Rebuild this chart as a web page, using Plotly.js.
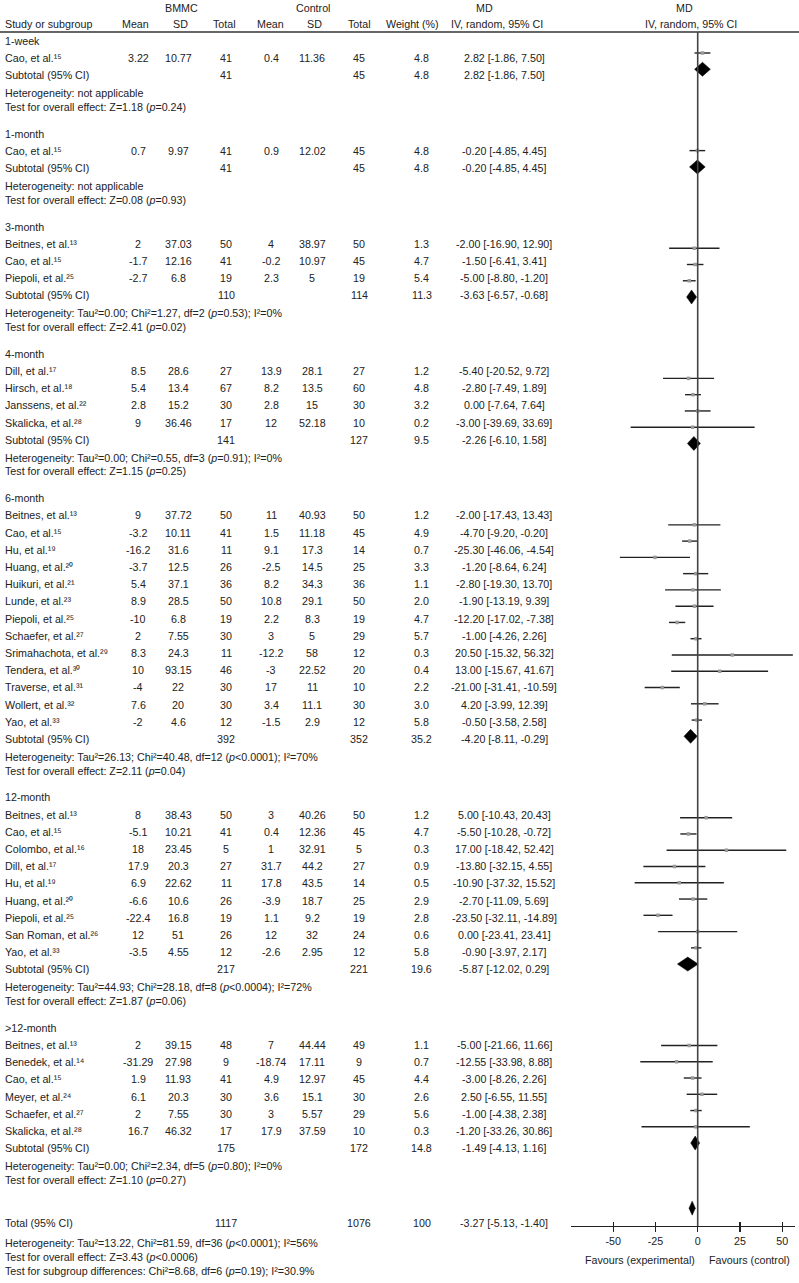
<!DOCTYPE html>
<html><head><meta charset="utf-8">
<script src="https://cdn.plot.ly/plotly-3.0.1.min.js"></script>
<style>html,body{margin:0;padding:0;background:#fff}</style>
</head><body><div id="chart" style="width:799px;height:1283px"></div>
<script>
// ---------------- data ----------------
const groupLabels = ['1-week','1-month','3-month','4-month','6-month','12-month','&gt;12-month'];

const studyGroup = [0, 1, 2,2,2, 3,3,3,3, 4,4,4,4,4,4,4,4,4,4,4,4,4, 5,5,5,5,5,5,5,5,5, 6,6,6,6,6,6];
const studyName = ['Cao',
  'Cao',
  'Beitnes','Cao','Piepoli',
  'Dill','Hirsch','Janssens','Skalicka',
  'Beitnes','Cao','Hu','Huang','Huikuri','Lunde','Piepoli','Schaefer','Srimahachota','Tendera','Traverse','Wollert','Yao',
  'Beitnes','Cao','Colombo','Dill','Hu','Huang','Piepoli','San Roman','Yao',
  'Beitnes','Benedek','Cao','Meyer','Schaefer','Skalicka'];
const studyRef = [15, 15, 13,15,25, 17,18,22,28,
  13,15,19,20,21,23,25,27,29,30,31,32,33,
  13,15,16,17,19,20,25,26,33,
  13,14,15,24,27,28];
const bmmcMean = [3.22, 0.7, 2,-1.7,-2.7, 8.5,5.4,2.8,9,
  9,-3.2,-16.2,-3.7,5.4,8.9,-10,2,8.3,10,-4,7.6,-2,
  8,-5.1,18,17.9,6.9,-6.6,-22.4,12,-3.5,
  2,-31.29,1.9,6.1,2,16.7];
const bmmcSD = [10.77, 9.97, 37.03,12.16,6.8, 28.6,13.4,15.2,36.46,
  37.72,10.11,31.6,12.5,37.1,28.5,6.8,7.55,24.3,93.15,22,20,4.6,
  38.43,10.21,23.45,20.3,22.62,10.6,16.8,51,4.55,
  39.15,27.98,11.93,20.3,7.55,46.32];
const bmmcN = [41, 41, 50,41,19, 27,67,30,17,
  50,41,11,26,36,50,19,30,11,46,30,30,12,
  50,41,5,27,11,26,19,26,12,
  48,9,41,30,30,17];
const ctrlMean = [0.4, 0.9, 4,-0.2,2.3, 13.9,8.2,2.8,12,
  11,1.5,9.1,-2.5,8.2,10.8,2.2,3,-12.2,-3,17,3.4,-1.5,
  3,0.4,1,31.7,17.8,-3.9,1.1,12,-2.6,
  7,-18.74,4.9,3.6,3,17.9];
const ctrlSD = [11.36, 12.02, 38.97,10.97,5, 28.1,13.5,15,52.18,
  40.93,11.18,17.3,14.5,34.3,29.1,8.3,5,58,22.52,11,11.1,2.9,
  40.26,12.36,32.91,44.2,43.5,18.7,9.2,32,2.95,
  44.44,17.11,12.97,15.1,5.57,37.59];
const ctrlN = [45, 45, 50,45,19, 27,60,30,10,
  50,45,14,25,36,50,19,29,12,20,10,30,12,
  50,45,5,27,14,25,19,24,12,
  49,9,45,30,29,10];
const weight = [4.8, 4.8, 1.3,4.7,5.4, 1.2,4.8,3.2,0.2,
  1.2,4.9,0.7,3.3,1.1,2.0,4.7,5.7,0.3,0.4,2.2,3.0,5.8,
  1.2,4.7,0.3,0.9,0.5,2.9,2.8,0.6,5.8,
  1.1,0.7,4.4,2.6,5.6,0.3];
const md = [2.82, -0.20, -2.00,-1.50,-5.00, -5.40,-2.80,0.00,-3.00,
  -2.00,-4.70,-25.30,-1.20,-2.80,-1.90,-12.20,-1.00,20.50,13.00,-21.00,4.20,-0.50,
  5.00,-5.50,17.00,-13.80,-10.90,-2.70,-23.50,0.00,-0.90,
  -5.00,-12.55,-3.00,2.50,-1.00,-1.20];
const mdLo = [-1.86, -4.85, -16.90,-6.41,-8.80, -20.52,-7.49,-7.64,-39.69,
  -17.43,-9.20,-46.06,-8.64,-19.30,-13.19,-17.02,-4.26,-15.32,-15.67,-31.41,-3.99,-3.58,
  -10.43,-10.28,-18.42,-32.15,-37.32,-11.09,-32.11,-23.41,-3.97,
  -21.66,-33.98,-8.26,-6.55,-4.38,-33.26];
const mdHi = [7.50, 4.45, 12.90,3.41,-1.20, 9.72,1.89,7.64,33.69,
  13.43,-0.20,-4.54,6.24,13.70,9.39,-7.38,2.26,56.32,41.67,-10.59,12.39,2.58,
  20.43,-0.72,52.42,4.55,15.52,5.69,-14.89,23.41,2.17,
  11.66,8.88,2.26,11.55,2.38,30.86];

const subN1 = [41,41,110,141,392,217,175];
const subN2 = [45,45,114,127,352,221,172];
const subW  = [4.8,4.8,11.3,9.5,35.2,19.6,14.8];
const subMD = [2.82,-0.20,-3.63,-2.26,-4.20,-5.87,-1.49];
const subLo = [-1.86,-4.85,-6.57,-6.10,-8.11,-12.02,-4.13];
const subHi = [7.50,4.45,-0.68,1.58,-0.29,0.29,1.16];
const hetTau2 = [null,null,'0.00','0.00','26.13','44.93','0.00'];
const hetChi2 = [null,null,'1.27','0.55','40.48','28.18','2.34'];
const hetDf   = [null,null,2,3,12,8,5];
const hetP    = [null,null,'=0.53','=0.91','&lt;0.0001','&lt;0.0004','=0.80'];
const hetI2   = [null,null,0,0,70,72,0];
const testZ   = ['1.18','0.08','2.41','1.15','2.11','1.87','1.10'];
const testP   = ['=0.24','=0.93','=0.02','=0.25','=0.04','=0.06','=0.27'];

const totalN1 = 1117, totalN2 = 1076, totalW = 100;
const totalMD = -3.27, totalLo = -5.13, totalHi = -1.40;
const totalHet = {tau2:'13.22', chi2:'81.59', df:36, p:'&lt;0.0001', i2:56};
const totalTest = {z:'3.43', p:'&lt;0.0006'};
const subgroupDiff = {chi2:'8.68', df:6, p:'=0.19', i2:'30.9'};

const axisTicks = [-50,-25,0,25,50];
const axisTickText = ['-50','-25','0','25','50'];

// ---------------- layout helpers ----------------
const W = 799, H = 1283;
const FONT = {family: '"Liberation Sans", Arial, sans-serif', size: 10.7, color: '#222'};
const COL = {name: 3, m1: 138, sd1: 178, n1: 226, m2: 271, sd2: 312, n2: 359, w: 422, md: 504};
const anns = [];
function txt(x, y, s, anchor) {
  anns.push({xref: 'paper', yref: 'y', x: x / W, y: y, text: s, showarrow: false,
    xanchor: anchor || 'center', yanchor: 'middle', font: FONT});
}
const SUPD = {'0':'\u2070','1':'\u00b9','2':'\u00b2','3':'\u00b3','4':'\u2074','5':'\u2075','6':'\u2076','7':'\u2077','8':'\u2078','9':'\u2079'};
const sup = v => String(v).split('').map(c => SUPD[c]).join('');
const f2 = v => v.toFixed(2);
const ci = (m, l, h) => f2(m) + ' [' + f2(l) + ', ' + f2(h) + ']';
const wt = v => v === 100 ? '100' : v.toFixed(1);
const it = s => '<i>' + s + '</i>';

// header
txt(181, 8, 'BMMC'); txt(313, 8, 'Control'); txt(485, 8, 'MD'); txt(684, 8, 'MD');
txt(COL.name, 24, 'Study or subgroup', 'left');
txt(135, 24, 'Mean'); txt(180, 24, 'SD'); txt(225, 24, 'Total');
txt(270, 24, 'Mean'); txt(314, 24, 'SD'); txt(359, 24, 'Total');
txt(412, 24, 'Weight (%)'); txt(497, 24, 'IV, random, 95% CI'); txt(691, 24, 'IV, random, 95% CI');

// rows
const P = 17.2, A = 18, B = 13.5, C = 26.9, C_LAST = 43.6;
let yT = 41, iP = 0, s = 0;
const lineX = [], lineY = [], sqX = [], sqY = [];
const diamonds = [];
groupLabels.forEach((g, gi) => {
  txt(COL.name, yT, g, 'left');
  yT += P; iP += 1;
  while (s < studyGroup.length && studyGroup[s] === gi) {
    txt(COL.name, yT, studyName[s] + ', et al.' + sup(studyRef[s]), 'left');
    txt(COL.m1, yT, String(bmmcMean[s])); txt(COL.sd1, yT, String(bmmcSD[s])); txt(COL.n1, yT, String(bmmcN[s]));
    txt(COL.m2, yT, String(ctrlMean[s])); txt(COL.sd2, yT, String(ctrlSD[s])); txt(COL.n2, yT, String(ctrlN[s]));
    txt(COL.w, yT, wt(weight[s])); txt(COL.md, yT, ci(md[s], mdLo[s], mdHi[s]));
    lineX.push(mdLo[s], mdHi[s], null); lineY.push(iP, iP, null);
    sqX.push(md[s]); sqY.push(iP);
    yT += P; iP += 1; s++;
  }
  txt(COL.name, yT, 'Subtotal (95% CI)', 'left');
  txt(COL.n1, yT, String(subN1[gi])); txt(COL.n2, yT, String(subN2[gi]));
  txt(COL.w, yT, wt(subW[gi])); txt(COL.md, yT, ci(subMD[gi], subLo[gi], subHi[gi]));
  diamonds.push({m: subMD[gi], l: subLo[gi], h: subHi[gi], i: iP});
  const het = hetTau2[gi] === null ? 'Heterogeneity: not applicable' :
    'Heterogeneity: Tau' + sup(2) + '=' + hetTau2[gi] + '; Chi' + sup(2) + '=' + hetChi2[gi] +
    ', df=' + hetDf[gi] + ' (' + it('p') + hetP[gi] + '); I' + sup(2) + '=' + hetI2[gi] + '%';
  txt(COL.name, yT + A, het, 'left');
  txt(COL.name, yT + A + B, 'Test for overall effect: Z=' + testZ[gi] + ' (' + it('p') + testP[gi] + ')', 'left');
  yT = yT + A + B + (gi === groupLabels.length - 1 ? C_LAST : C);
  iP += 4;
});
// total
txt(COL.name, yT, 'Total (95% CI)', 'left');
txt(COL.n1, yT, String(totalN1)); txt(COL.n2, yT, String(totalN2));
txt(COL.w, yT, wt(totalW)); txt(COL.md, yT, ci(totalMD, totalLo, totalHi));
diamonds.push({m: totalMD, l: totalLo, h: totalHi, i: iP});
txt(COL.name, yT + 20, 'Heterogeneity: Tau' + sup(2) + '=' + totalHet.tau2 + ', Chi' + sup(2) + '=' + totalHet.chi2 +
  ', df=' + totalHet.df + ' (' + it('p') + totalHet.p + '); I' + sup(2) + '=' + totalHet.i2 + '%', 'left');
txt(COL.name, yT + 34, 'Test for overall effect: Z=' + totalTest.z + ' (' + it('p') + totalTest.p + ')', 'left');
txt(COL.name, yT + 48, 'Test for subgroup differences: Chi' + sup(2) + '=' + subgroupDiff.chi2 + ', df=' + subgroupDiff.df +
  ' (' + it('p') + subgroupDiff.p + '); I' + sup(2) + '=' + subgroupDiff.i2 + '%', 'left');

// favours labels
const AXIS_Y = 1226;
anns.push({xref: 'x', yref: 'y', x: 0, y: 1260, text: 'Favours (experimental)', showarrow: false, xanchor: 'right', yanchor: 'middle', xshift: -1, font: FONT});
anns.push({xref: 'x', yref: 'y', x: 0, y: 1260, text: 'Favours (control)', showarrow: false, xanchor: 'left', yanchor: 'middle', xshift: 9, font: FONT});

// ---------------- traces ----------------
const traces = [];
traces.push({type: 'scatter', mode: 'markers', x: [0], y: [0], xaxis: 'x', yaxis: 'y', marker: {opacity: 0}, hoverinfo: 'skip', showlegend: false});
traces.push({type: 'scatter', mode: 'lines', x: lineX, y: lineY, xaxis: 'x', yaxis: 'y2',
  line: {color: '#222', width: 1.4}, hoverinfo: 'skip', showlegend: false});
traces.push({type: 'scatter', mode: 'markers', x: sqX, y: sqY, xaxis: 'x', yaxis: 'y2',
  marker: {symbol: 'square', size: 3.5, color: '#999'}, hoverinfo: 'skip', showlegend: false});
const DH = 0.43;
diamonds.forEach(d => {
  traces.push({type: 'scatter', mode: 'lines', x: [d.l, d.m, d.h, d.m, d.l], y: [d.i, d.i - DH, d.i, d.i + DH, d.i],
    xaxis: 'x', yaxis: 'y2', fill: 'toself', fillcolor: '#000', line: {color: '#000', width: 0.5},
    hoverinfo: 'skip', showlegend: false});
});
traces.push({type: 'scatter', mode: 'markers', x: [0], y: [0], xaxis: 'x3', yaxis: 'y2', marker: {opacity: 0}, hoverinfo: 'skip', showlegend: false});

// plot row index -> pixel: 36.73 + i*16.27
const U = 16.27, I0 = 36.73;
const y2range = [(H - I0) / U, -I0 / U];
const XD = [571 / W, 795 / W], XR = [-75, 57.6];
const axPos = 1 - AXIS_Y / H;

const layout = {
  width: W, height: H, margin: {l: 0, r: 0, t: 0, b: 0}, paper_bgcolor: '#fff', plot_bgcolor: 'rgba(0,0,0,0)',
  showlegend: false, font: FONT,
  xaxis: {domain: XD, range: XR, anchor: 'free', position: axPos, showgrid: false, zeroline: false,
    showline: true, linecolor: '#222', linewidth: 1.4, ticks: 'outside', ticklen: 5, tickwidth: 1.3, tickcolor: '#222',
    tickvals: axisTicks, ticktext: axisTickText, tickfont: FONT, fixedrange: true},
  xaxis3: {domain: XD, range: XR, overlaying: 'x', anchor: 'free', position: axPos, showgrid: false, zeroline: false,
    showline: false, ticks: 'inside', ticklen: 4, tickwidth: 1.3, tickcolor: '#222', tickvals: axisTicks,
    showticklabels: false, fixedrange: true},
  yaxis: {domain: [0, 1], range: [H, 0], visible: false, fixedrange: true},
  yaxis2: {domain: [0, 1], range: y2range, overlaying: 'y', visible: false, fixedrange: true},
  annotations: anns,
  shapes: [
    {type: 'line', xref: 'paper', yref: 'y', x0: 0, x1: 1, y0: 32, y1: 32, line: {color: '#333', width: 1.3}},
    {type: 'line', xref: 'x', yref: 'y', x0: 0, x1: 0, y0: 32, y1: AXIS_Y, line: {color: '#444', width: 1.6}}
  ]
};
Plotly.newPlot('chart', traces, layout, {staticPlot: true, displayModeBar: false});
</script></body></html>
